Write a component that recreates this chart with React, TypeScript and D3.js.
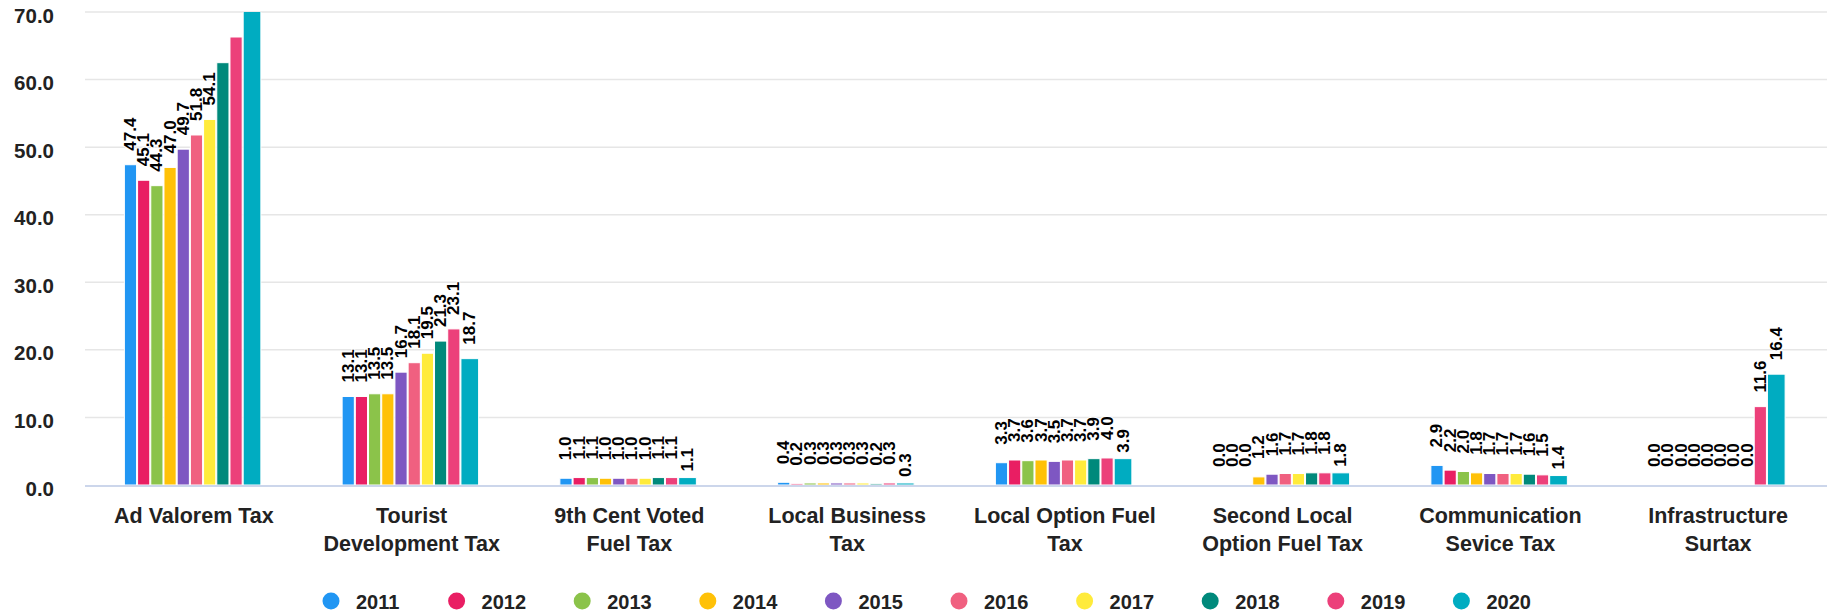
import React from "react";
import * as d3 from "d3";

const categories = [
  "Ad Valorem Tax",
  "Tourist\nDevelopment Tax",
  "9th Cent Voted\nFuel Tax",
  "Local Business\nTax",
  "Local Option Fuel\nTax",
  "Second Local\nOption Fuel Tax",
  "Communication\nSevice Tax",
  "Infrastructure\nSurtax",
];

const years = ["2011", "2012", "2013", "2014", "2015", "2016", "2017", "2018", "2019", "2020"];

const v2011 = [47.4, 13.1, 1.0, 0.4, 3.3, 0.0, 2.9, 0.0];
const v2012 = [45.1, 13.1, 1.1, 0.2, 3.7, 0.0, 2.2, 0.0];
const v2013 = [44.3, 13.5, 1.1, 0.3, 3.6, 0.0, 2.0, 0.0];
const v2014 = [47.0, 13.5, 1.0, 0.3, 3.7, 1.2, 1.8, 0.0];
const v2015 = [49.7, 16.7, 1.0, 0.3, 3.5, 1.6, 1.7, 0.0];
const v2016 = [51.8, 18.1, 1.0, 0.3, 3.7, 1.7, 1.7, 0.0];
const v2017 = [54.1, 19.5, 1.0, 0.3, 3.7, 1.7, 1.7, 0.0];
const v2018 = [62.5, 21.3, 1.1, 0.2, 3.9, 1.8, 1.6, 0.0];
const v2019 = [66.3, 23.1, 1.1, 0.3, 4.0, 1.8, 1.5, 11.6];
const v2020 = [71.5, 18.7, 1.1, 0.3, 3.9, 1.8, 1.4, 16.4];
const seriesValues = [v2011, v2012, v2013, v2014, v2015, v2016, v2017, v2018, v2019, v2020];

const colors = ["#2196F3", "#E91E63", "#8BC34A", "#FFC107", "#7E57C2", "#F06080", "#FFEB3B", "#00897B", "#EC407A", "#00ACC1"];

const yTicks = [0, 10, 20, 30, 40, 50, 60, 70];

const W = 1835;
const H = 616;
const left = 85;
const right = 1827;
const top = 12;
const bottom = 485;
const FONT = "'Liberation Sans', Arial, Helvetica, sans-serif";

export default function App() {
  const x0 = d3.scaleBand<string>().domain(categories).range([left, right]);
  const x1 = d3.scaleBand<string>().domain(years).range([-69.5, 62.5]);
  const y = d3.scaleLinear().domain([0, 70]).range([bottom, top]);
  const bw = x1.bandwidth();
  const legendX = d3.scaleLinear().domain([0, 1]).range([331, 456.6]);

  return (
    <svg
      width={W}
      height={H}
      style={{ position: "absolute", left: 0, top: 0, background: "#fff" }}
      fontFamily={FONT}
    >
      <defs>
        <clipPath id="plotclip">
          <rect x={left} y={top} width={right - left} height={bottom - top + 1} />
        </clipPath>
      </defs>
      {yTicks.slice(1).map((t) => (
        <line key={t} x1={left} x2={right} y1={y(t)} y2={y(t)} stroke="#e6e6e6" strokeWidth={1.5} />
      ))}
      {yTicks.map((t) => (
        <text
          key={"yl" + t}
          x={54}
          y={y(t) + 3}
          textAnchor="end"
          dominantBaseline="central"
          fontSize={20.5}
          fontWeight="bold"
          fill="#222"
        >
          {d3.format(".1f")(t)}
        </text>
      ))}
      <g clipPath="url(#plotclip)">
        {categories.map((c, ci) => {
          const cx = (x0(c) as number) + x0.bandwidth() / 2;
          return years.map((yr, si) => {
            const v = seriesValues[si][ci];
            const last = si === years.length - 1;
            const xs = cx + (x1(yr) as number);
            const w = last ? bw * 1.34 : bw - 1;
            const yt = y(v);
            return (
              <rect
                key={c + yr}
                x={xs}
                y={yt}
                width={w}
                height={Math.max(0, bottom - yt)}
                fill={colors[si]}
                stroke="#fff"
                strokeWidth={1}
              />
            );
          });
        })}
      </g>
      <line x1={left} x2={right} y1={bottom + 1} y2={bottom + 1} stroke="#ccd6eb" strokeWidth={2} />
      {categories.map((c, ci) => {
        const cx = (x0(c) as number) + x0.bandwidth() / 2;
        return years.map((yr, si) => {
          const v = seriesValues[si][ci];
          if (v >= 60) return null;
          const last = si === years.length - 1;
          const w = last ? bw * 1.34 : bw - 1;
          const lx = cx + (x1(yr) as number) + w / 2;
          const shift = last && v < 5 ? 12 : 0;
          const ly = y(v) - (v < 5 ? 18 : 14) + shift;
          return (
            <text
              key={"l" + c + yr}
              transform={`translate(${lx},${ly}) rotate(-90)`}
              textAnchor="start"
              dominantBaseline="central"
              fontSize={17}
              fontWeight="bold"
              fill="#000"
              stroke="#fff"
              strokeWidth={2}
              paintOrder="stroke"
              strokeLinejoin="round"
            >
              {d3.format(".1f")(v)}
            </text>
          );
        });
      })}
      {categories.map((c) => {
        const cx = (x0(c) as number) + x0.bandwidth() / 2;
        return (
          <text key={"c" + c} x={cx} y={523} textAnchor="middle" fontSize={21.5} fontWeight="bold" fill="#222">
            {c.split("\n").map((ln, i) => (
              <tspan key={i} x={cx} dy={i === 0 ? 0 : 27.5}>
                {ln}
              </tspan>
            ))}
          </text>
        );
      })}
      {years.map((yr, i) => (
        <g key={"lg" + yr} transform={`translate(${legendX(i)},601)`}>
          <circle r={8.5} fill={colors[i]} />
          <text x={25} y={1} dominantBaseline="central" fontSize={20} fontWeight="bold" fill="#222">
            {yr}
          </text>
        </g>
      ))}
    </svg>
  );
}
